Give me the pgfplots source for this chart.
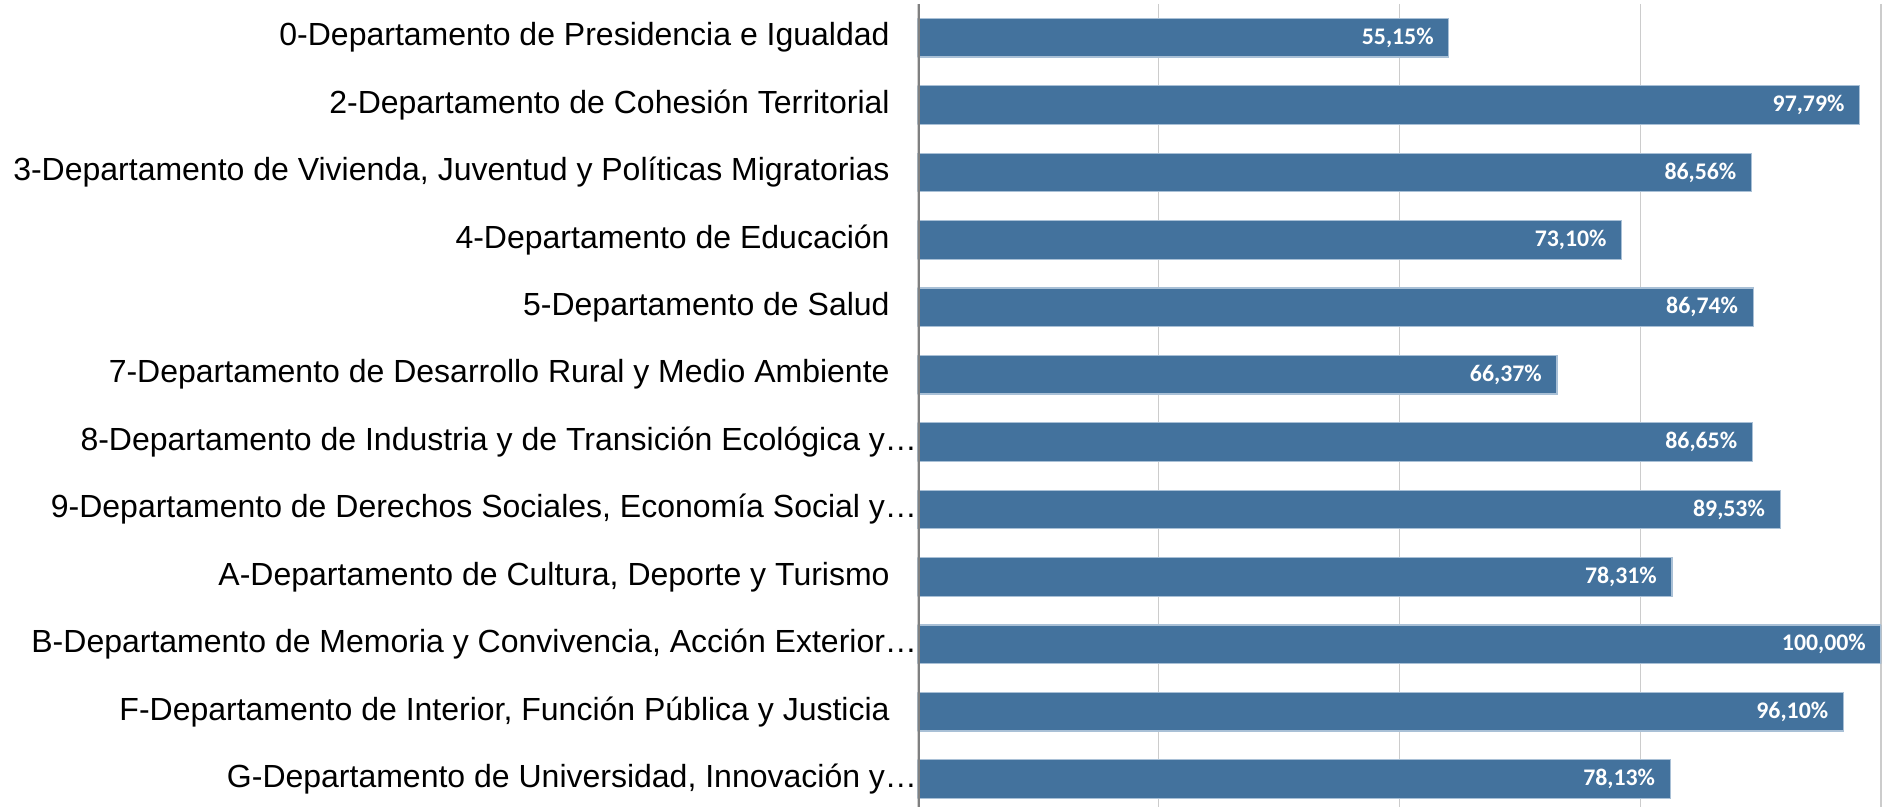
\documentclass[border=0pt]{standalone}
\usepackage{fontspec}
\setmainfont{Liberation Sans}
\newfontfamily\carlito{Carlito}
\usepackage{pgfplots}
\usepackage{pgfplotstable}
\pgfplotsset{compat=1.18}
\definecolor{barblue}{HTML}{43729D}
\definecolor{baredge}{HTML}{A9C0D6}
\pgfplotstableread{
i v lab
0 55.15 55,15\%
1 97.79 97,79\%
2 86.56 86,56\%
3 73.10 73,10\%
4 86.74 86,74\%
5 66.37 66,37\%
6 86.65 86,65\%
7 89.53 89,53\%
8 78.31 78,31\%
9 100.00 100,00\%
10 96.10 96,10\%
11 78.13 78,13\%
}\datatable
\newcommand{\pad}{\rule{13.75pt}{0pt}}
\begin{document}
\begin{tikzpicture}
\useasboundingbox (0,0) rectangle (942pt,403.5pt);
\begin{axis}[
  at={(458.75pt,401.5pt)}, anchor=north west,
  width=481.75pt, height=404.4pt, scale only axis,
  xmin=0, xmax=100,
  ymin=-0.5, ymax=11.5, y dir=reverse,
  xbar, bar width=19.25pt,
  xtick={25,50,75,100}, xticklabels={},
  xmajorgrids, grid style={draw=black!20, line width=0.6pt},
  ytick={0,...,11},
  yticklabels={
    {0-Departamento de Presidencia e Igualdad\pad},
    {2-Departamento de Cohesión Territorial\pad},
    {3-Departamento de Vivienda, Juventud y Políticas Migratorias\pad},
    {4-Departamento de Educación\pad},
    {5-Departamento de Salud\pad},
    {7-Departamento de Desarrollo Rural y Medio Ambiente\pad},
    {8-Departamento de Industria y de Transición Ecológica y…},
    {9-Departamento de Derechos Sociales, Economía Social y…},
    {A-Departamento de Cultura, Deporte y Turismo\pad},
    {B-Departamento de Memoria y Convivencia, Acción Exterior…},
    {F-Departamento de Interior, Función Pública y Justicia\pad},
    {G-Departamento de Universidad, Innovación y…}},
  yticklabel style={font=\fontsize{16pt}{19pt}\selectfont, anchor=east, inner sep=0pt, text=black},
  major tick length=0pt,
  axis line style={draw=none},
  clip=true,
  nodes near coords={\pgfplotspointmeta},
  point meta=explicit symbolic,
  nodes near coords style={font=\carlito\bfseries\fontsize{11.9pt}{14pt}\selectfont, text=white, anchor=east, xshift=-4pt},
]
\addplot[fill=barblue, draw=baredge, line width=0.6pt]
  table[x=v, y=i, meta=lab] {\datatable};
\draw[draw=black!50, line width=2.4pt] (axis cs:0,-0.5) -- (axis cs:0,11.5);
\end{axis}
\end{tikzpicture}
\end{document}
